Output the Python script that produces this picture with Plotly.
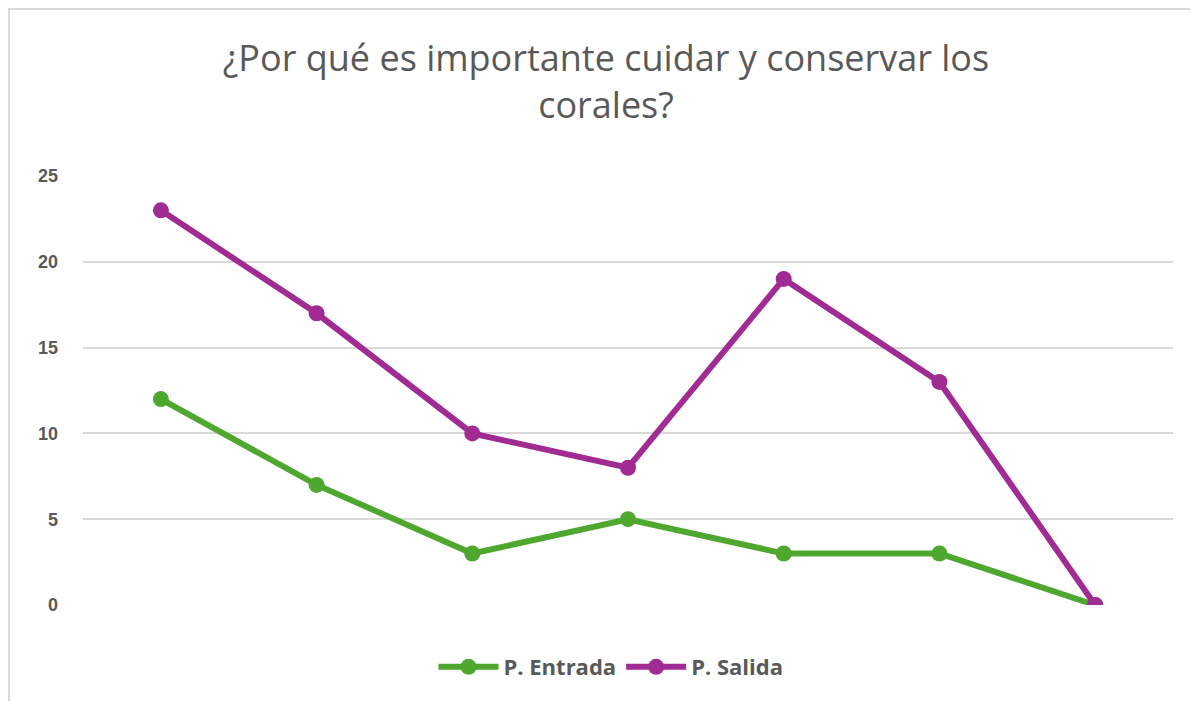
import plotly.graph_objects as go

categories = ["1", "2", "3", "4", "5", "6", "7"]
entrada = [12, 7, 3, 5, 3, 3, 0]
salida = [23, 17, 10, 8, 19, 13, 0]
y_ticks = [0, 5, 10, 15, 20, 25]

# page has an 8px body margin; figure coordinates are offset by it
W, H = 1182, 693
L, R, T, B = 75, 17, 168, 96
pw, ph = W - L - R, H - T - B

fig = go.Figure()
fig.add_trace(go.Scatter(x=categories, y=entrada, mode="lines+markers", name="P. Entrada",
                         line=dict(color="#4EA72E", width=6),
                         marker=dict(size=16, color="#4EA72E")))
fig.add_trace(go.Scatter(x=categories, y=salida, mode="lines+markers", name="P. Salida",
                         line=dict(color="#A02B93", width=6),
                         marker=dict(size=16, color="#A02B93")))

def fx(p):
    return (p - L) / pw

def fy(p):
    return (H - B - p) / ph

fig.update_layout(
    width=W, height=H,
    margin=dict(l=L, r=R, t=T, b=B),
    paper_bgcolor="white", plot_bgcolor="white",
    title=dict(text="¿Por qué es importante cuidar y conservar los<br>corales?",
               x=598 / W, xanchor="center", xref="container",
               y=1 - 63 / H, yanchor="top", yref="container",
               font=dict(family="Open Sans", size=36, color="#595959")),
    xaxis=dict(type="category", range=[-0.5, 6.5], showticklabels=False,
               showgrid=False, zeroline=False, showline=False, ticks=""),
    yaxis=dict(range=[0, 25], tickvals=y_ticks, showgrid=True, gridcolor="#d9d9d9",
               gridwidth=2, zeroline=False, showline=False, ticks="",
               ticklabelstandoff=24,
               tickfont=dict(family="Liberation Sans", size=18, color="#595959", weight="bold")),
    legend=dict(orientation="h", xref="container", x=603 / W, xanchor="center",
                yref="container", y=1 - 659 / H, yanchor="middle",
                font=dict(family="Open Sans", size=22, color="#595959", weight="bold"),
                itemwidth=60),
    showlegend=True,
    shapes=[dict(type="rect", xref="paper", yref="paper",
                 x0=fx(1), x1=fx(W + 20), y0=fy(H + 20), y1=fy(1),
                 line=dict(color="#d9d9d9", width=2), layer="below")],
)

fig.write_html("out.html")
